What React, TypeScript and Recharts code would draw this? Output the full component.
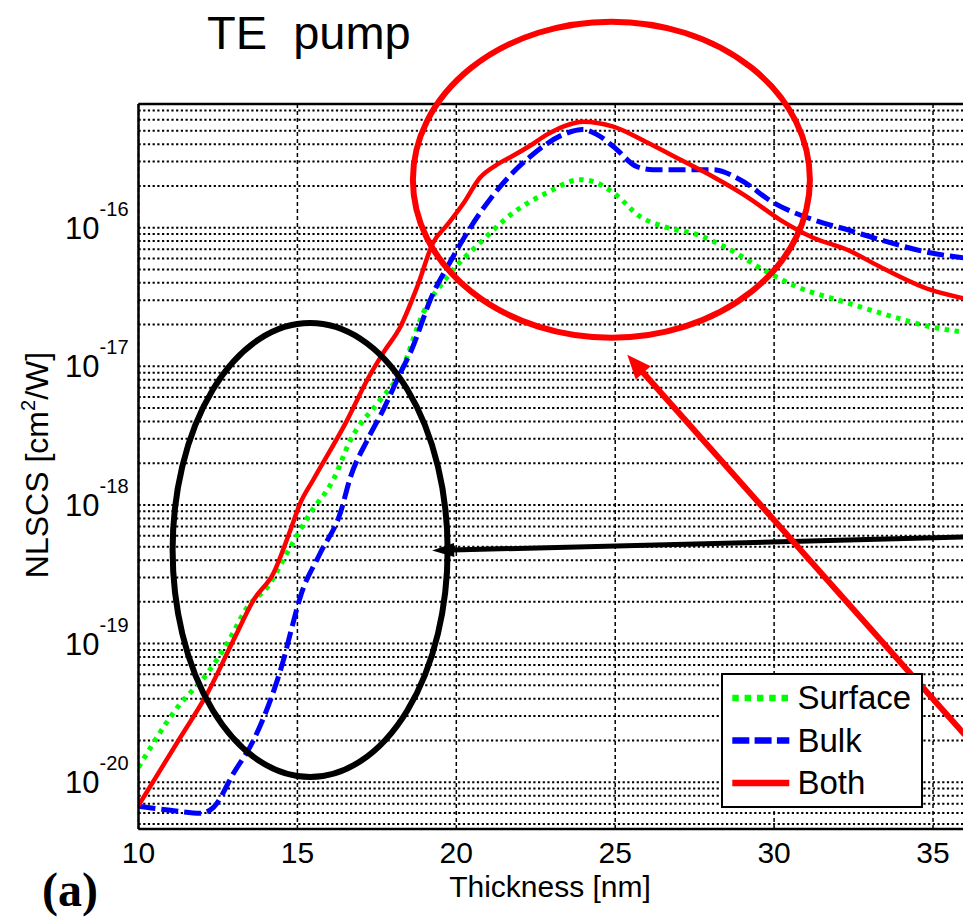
import React from 'react';
import {
  LineChart,
  Line,
  XAxis,
  YAxis,
  CartesianGrid,
  ReferenceLine,
  ReferenceDot,
  Legend,
} from 'recharts';

// ---------------- data ----------------
const surfaceThickness = [10.0, 11.23, 12.17, 12.8, 13.43, 14.06, 14.78, 15.41, 16.13, 16.67, 17.61, 18.24, 18.96, 19.72, 20.75, 21.79, 22.86, 23.9, 24.31, 24.94, 25.79, 26.51, 27.58, 28.62, 29.65, 30.72, 32.3, 33.33, 34.91, 36.0];
const surfaceNlscs = [1.28e-20, 3.48e-20, 6.12e-20, 1.01e-19, 1.84e-19, 2.56e-19, 4.98e-19, 8.75e-19, 1.52e-18, 2.94e-18, 5.73e-18, 8.97e-18, 2.43e-17, 4.43e-17, 7.79e-17, 1.28e-16, 1.79e-16, 2.22e-16, 2.15e-16, 1.79e-16, 1.2e-16, 1.02e-16, 8.9e-17, 6.93e-17, 4.98e-17, 3.75e-17, 2.87e-17, 2.43e-17, 1.93e-17, 1.76e-17];

const bulkThickness = [10.0, 11.0, 11.95, 12.36, 12.99, 13.62, 14.15, 14.56, 14.78, 15.09, 15.72, 16.35, 16.67, 17.2, 17.7, 18.24, 18.55, 19.28, 19.72, 20.75, 21.38, 22.33, 23.36, 23.99, 24.43, 24.94, 25.69, 26.19, 28.08, 28.93, 29.97, 31.23, 32.3, 33.33, 34.91, 36.0];
const bulkNlscs = [6.71e-21, 6.28e-21, 5.97e-21, 6.59e-21, 1.16e-20, 2.01e-20, 3.91e-20, 7.6e-20, 1.19e-19, 2.17e-19, 4.5e-19, 8.75e-19, 1.59e-18, 2.94e-18, 4.85e-18, 8.97e-18, 1.25e-17, 3.4e-17, 5.23e-17, 1.28e-16, 1.98e-16, 3.26e-16, 4.69e-16, 5.1e-16, 4.69e-16, 3.85e-16, 2.75e-16, 2.62e-16, 2.62e-16, 2.22e-16, 1.52e-16, 1.14e-16, 9.67e-17, 8.19e-17, 6.59e-17, 6.05e-17];

const bothThickness = [10.0, 11.32, 12.17, 12.99, 13.62, 14.25, 14.78, 15.09, 15.5, 16.57, 17.2, 17.7, 18.24, 18.77, 19.27, 19.72, 20.21, 20.75, 21.28, 21.78, 22.32, 22.85, 23.36, 23.99, 24.94, 26.01, 27.04, 28.08, 29.15, 30.19, 31.23, 32.3, 33.33, 34.91, 36.0];
const bothNlscs = [6.8e-21, 2.11e-20, 4.39e-20, 1.06e-19, 2.06e-19, 3.23e-19, 6.59e-19, 1.03e-18, 1.52e-18, 4.11e-18, 8.0e-18, 1.25e-17, 1.93e-17, 3.75e-17, 7.79e-17, 1.05e-16, 1.48e-16, 2.3e-16, 2.85e-16, 3.3e-16, 3.9e-16, 4.69e-16, 5.36e-16, 5.82e-16, 5.36e-16, 4.11e-16, 3.1e-16, 2.33e-16, 1.67e-16, 1.14e-16, 8.47e-17, 6.93e-17, 5.23e-17, 3.57e-17, 3.08e-17];

const seriesNames = ['Surface', 'Bulk', 'Both'];
const seriesColors = ['#00ff00', '#0000ff', '#ff0000'];

const xTicks = [10, 15, 20, 25, 30, 35];
const X_DOMAIN: [number, number] = [10, 36];
const Y_MIN = 4.6e-21;
const Y_MAX = 7.8e-16;
const yDecades = [-21, -20, -19, -18, -17, -16];
const yMultipliers = [1, 2, 3, 4, 5, 6, 7, 8, 9];

// annotation anchors (data coordinates)
const blackEllipseCenter = { x: 15.4, y: 4.73e-19 };
const redEllipseCenter = { x: 24.88, y: 2.22e-16 };
const blackArrow = [{ x: 36, y: 5.87e-19 }, { x: 19.24, y: 4.69e-19 }];
const redArrow = [{ x: 36, y: 2.2e-20 }, { x: 25.38, y: 1.21e-17 }];

// ---------------- derived ----------------
const toPoints = (ts: number[], vs: number[]) => ts.map((t, i) => ({ t, v: vs[i] }));
const surfaceData = toPoints(surfaceThickness, surfaceNlscs);
const bulkData = toPoints(bulkThickness, bulkNlscs);
const bothData = toPoints(bothThickness, bothNlscs);

const yTicks = yDecades
  .flatMap((d) => yMultipliers.map((m) => Number((m * Math.pow(10, d)).toPrecision(3))))
  .filter((v) => v >= Y_MIN && v <= Y_MAX);

const FONT = "'Liberation Sans', Arial, Helvetica, sans-serif";

const YTick = (props: any) => {
  const { x, y, payload } = props;
  const v = payload.value;
  const lg = Math.log10(v);
  const e = Math.round(lg);
  if (Math.abs(lg - e) > 1e-6) return <g />;
  return (
    <text x={x - 10} y={y} textAnchor="end" fontFamily={FONT} fill="#000">
      <tspan fontSize={31} dy={11}>10</tspan>
      <tspan fontSize={20} dy={-23}>{`-${-e}`}</tspan>
    </text>
  );
};

const XTick = (props: any) => {
  const { x, y, payload } = props;
  return (
    <text x={x} y={y + 34} textAnchor="middle" fontFamily={FONT} fontSize={30} fill="#000">
      {payload.value}
    </text>
  );
};

const ellipseShape = (rx: number, ry: number, color: string) => (props: any) => (
  <ellipse cx={props.cx} cy={props.cy} rx={rx} ry={ry} fill="none" stroke={color} strokeWidth={6} />
);

const arrowShape = (color: string, width: number, headLen: number, headHalf: number) => (props: any) => {
  const { x1, y1, x2, y2 } = props;
  const dx = x2 - x1;
  const dy = y2 - y1;
  const len = Math.hypot(dx, dy) || 1;
  const ux = dx / len;
  const uy = dy / len;
  const bx = x2 - ux * headLen;
  const by = y2 - uy * headLen;
  const px = -uy;
  const py = ux;
  return (
    <g>
      <line x1={x1} y1={y1} x2={bx + ux * 2} y2={by + uy * 2} stroke={color} strokeWidth={width} />
      <polygon
        points={`${x2},${y2} ${bx + px * headHalf},${by + py * headHalf} ${bx - px * headHalf},${by - py * headHalf}`}
        fill={color}
      />
    </g>
  );
};

const legendDash = ['6.5 5.8', '17 5.3', undefined];

const LegendBox = () => (
  <div style={{ width: 202, height: 135, boxSizing: 'border-box', border: '2px solid #000', background: '#fff' }}>
    <svg width={198} height={131} style={{ display: 'block' }}>
      {seriesNames.map((name, i) => {
        const cy = 23 + i * 42.5;
        return (
          <g key={name}>
            <line x1={9.3} x2={66.3} y1={cy} y2={cy} stroke={seriesColors[i]} strokeWidth={6.5} strokeDasharray={legendDash[i]} />
            <text x={74.5} y={cy + 11} fontFamily={FONT} fontSize={33} fill="#000">{name}</text>
          </g>
        );
      })}
    </svg>
  </div>
);

export default function App() {
  return (
    <div style={{ position: 'absolute', left: 0, top: 0, width: 963, height: 920, overflow: 'hidden', background: '#fff' }}>
      <LineChart width={990} height={920} margin={{ top: 104, right: 25.2, bottom: 31, left: 0 }}>
        <CartesianGrid horizontal={true} vertical={false} stroke="#000" strokeWidth={2} strokeDasharray="2.2 2.5" />
        <CartesianGrid horizontal={false} vertical={true} stroke="#000" strokeWidth={1.5} strokeDasharray="4 3" />
        <XAxis
          dataKey="t"
          type="number"
          domain={X_DOMAIN}
          ticks={xTicks}
          allowDataOverflow
          height={60}
          tickSize={0}
          tickMargin={0}
          tickLine={false}
          axisLine={{ stroke: '#000', strokeWidth: 2.5 }}
          tick={<XTick />}
          interval={0}
        />
        <YAxis
          type="number"
          scale="log"
          domain={[Y_MIN, Y_MAX]}
          ticks={yTicks}
          allowDataOverflow
          width={138.5}
          tickSize={0}
          tickMargin={0}
          tickLine={false}
          axisLine={{ stroke: '#000', strokeWidth: 2.5 }}
          tick={<YTick />}
          interval={0}
        />
        <ReferenceLine y={Y_MAX} stroke="#000" strokeWidth={2.5} />
        <Line data={surfaceData} dataKey="v" name={seriesNames[0]} type="monotone" stroke={seriesColors[0]} strokeWidth={5} strokeDasharray="4.5 5.5" dot={false} activeDot={false} isAnimationActive={false} />
        <Line data={bulkData} dataKey="v" name={seriesNames[1]} type="monotone" stroke={seriesColors[1]} strokeWidth={5} strokeDasharray="17 6" dot={false} activeDot={false} isAnimationActive={false} />
        <Line data={bothData} dataKey="v" name={seriesNames[2]} type="monotone" stroke={seriesColors[2]} strokeWidth={4.5} dot={false} activeDot={false} isAnimationActive={false} />
        <ReferenceDot x={blackEllipseCenter.x} y={blackEllipseCenter.y} r={1} ifOverflow="visible" shape={ellipseShape(137.5, 227, '#000')} zIndex={1500} />
        <ReferenceDot x={redEllipseCenter.x} y={redEllipseCenter.y} r={1} ifOverflow="visible" shape={ellipseShape(198.5, 158, '#ff0000')} zIndex={1500} />
        <ReferenceLine segment={blackArrow} ifOverflow="visible" stroke="#000" shape={arrowShape('#000', 5, 22, 7)} zIndex={1500} />
        <ReferenceLine segment={redArrow} ifOverflow="visible" stroke="#ff0000" shape={arrowShape('#ff0000', 6, 24, 10)} zIndex={1500} />
        <Legend
          layout="vertical"
          align="center"
          verticalAlign="middle"
          content={() => <LegendBox />}
          wrapperStyle={{ position: 'absolute', left: 720.7, top: 672.7, width: 202, height: 135 }}
        />
      </LineChart>
      <svg width={963} height={920} style={{ position: 'absolute', left: 0, top: 0, pointerEvents: 'none' }}>
        <text x={207} y={49} fontFamily={FONT} fontSize={47} fill="#000" style={{ whiteSpace: 'pre' }}>{'TE  pump'}</text>
        <text x={550} y={897} textAnchor="middle" fontFamily={FONT} fontSize={30} fill="#000">Thickness [nm]</text>
        <text transform="translate(48,465) rotate(-90)" textAnchor="middle" fontFamily={FONT} fontSize={32} fill="#000">
          NLSCS [cm<tspan fontSize={20} dy={-13}>2</tspan><tspan dy={13}>/W]</tspan>
        </text>
        <text x={42} y={906} fontFamily="'Liberation Serif', 'Times New Roman', serif" fontWeight="bold" fontSize={48} fill="#000">(a)</text>
      </svg>
    </div>
  );
}
